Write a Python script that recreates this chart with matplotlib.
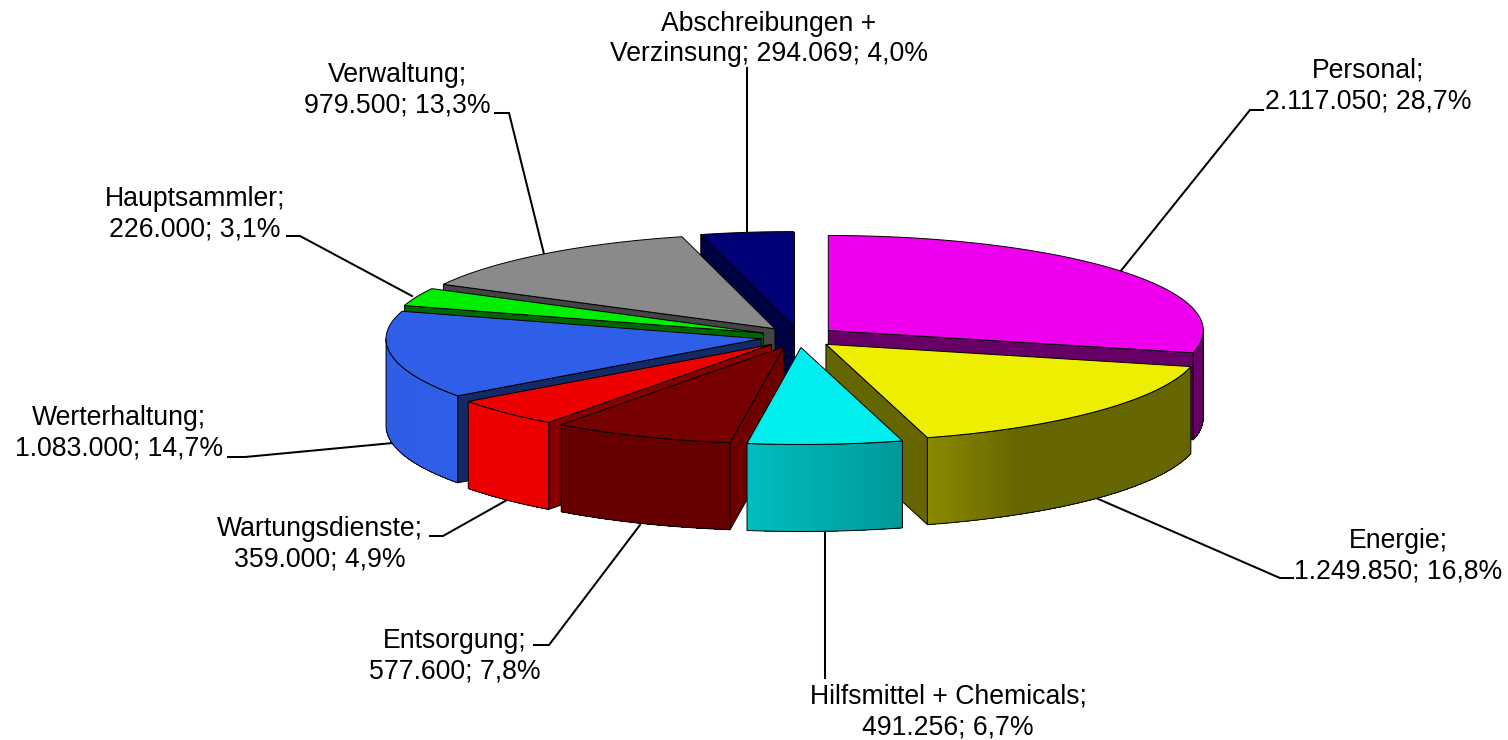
import matplotlib
matplotlib.use('Agg')
import matplotlib.pyplot as plt
import numpy as np
from matplotlib.collections import PolyCollection
from matplotlib.colors import to_rgb

plt.rcParams['font.family'] = ['Liberation Sans', 'DejaVu Sans']

names = ['Personal', 'Energie', 'Hilfsmittel + Chemicals', 'Entsorgung',
         'Wartungsdienste', 'Werterhaltung', 'Hauptsammler', 'Verwaltung',
         'Abschreibungen + Verzinsung']
values = [2117050, 1249850, 491256, 577600, 359000, 1083000, 226000, 979500,
          294069]
percents = [28.7, 16.8, 6.7, 7.8, 4.9, 14.7, 3.1, 13.3, 4.0]

top_colors = ['#ee00ee', '#eeee00', '#00eeee', '#770000', '#ee0000', '#2f5fe8',
              '#00ee00', '#8a8a8a', '#000077']
face_colors = ['#660066', '#666600', '#006666', '#6e0000', '#880000', '#142a66',
               '#006600', '#444444', '#000044']
# wall brightness along each slice, (fraction of the slice, brightness)
wall_shades = [[(0, .43), (1, .43)],
               [(0, .43), (.75, .43), (1, .58)],
               [(0, .64), (1, .80)],
               [(0, .86), (1, .86)],
               [(0, 1.), (1, 1.)],
               [(0, 1.), (1, .97)],
               [(0, 1.), (1, 1.)],
               [(0, 1.), (1, 1.)],
               [(0, 1.), (1, 1.)]]

# layout of the projected pie, in pixels
CX, CY = 798.5, 337
RX = 375
RY_BACK, RY_FRONT = 95, 97
EXPLODE_X, EXPLODE_Y = 38, 10.5
DEPTH = 87

label_pos = [(1368, 86), (1398, 556), (948, 712), (455, 656), (320, 544),
             (119, 433), (195, 214), (397, 90), (769, 39)]
leaders = [[(1120, 272), (1250, 110), (1263, 110)],
           [(1096, 498), (1280, 578), (1293, 578)],
           [(825, 530), (825, 678)],
           [(640, 525), (549, 645), (534, 645)],
           [(507, 500), (443, 536), (430, 536)],
           [(393, 443), (245, 457), (228, 457)],
           [(412, 296), (300, 236), (287, 236)],
           [(544, 254), (509, 113), (495, 113)],
           [(747, 231), (747, 68)]]


def label_text(name, value, percent):
    number = '{:,}'.format(value).replace(',', '.')
    pct = '{:.1f}%'.format(percent).replace('.', ',')
    if name.startswith('Abschreibungen'):
        return 'Abschreibungen +\nVerzinsung; {}; {}'.format(number, pct)
    return '{};\n{}; {}'.format(name, number, pct)


def rim(apex, angles):
    a = np.radians(angles)
    cos = np.cos(a)
    ry = np.where(cos > 0, RY_BACK, RY_FRONT)
    return np.column_stack([apex[0] + RX*np.sin(a), apex[1] - ry*cos])


def shaded(color, k):
    return tuple(c*k for c in to_rgb(color))


def draw_slice(ax, a1, a2, color, face, stops, z):
    mid = np.radians((a1 + a2)/2)
    apex = (CX + EXPLODE_X*np.sin(mid), CY - EXPLODE_Y*np.cos(mid))
    down = np.array([0, DEPTH])

    # cut faces, only the ones turned to the viewer
    for a, visible in [(a1, np.sin(np.radians(a1)) < 0),
                       (a2, np.sin(np.radians(a2)) > 0)]:
        if visible:
            p = rim(apex, [a])[0]
            q = np.array(apex)
            ax.fill(*np.array([q, p, p + down, q + down]).T, facecolor=face,
                    edgecolor='k', linewidth=.7, zorder=z)

    # outer wall between 90 and 270 degrees
    w1, w2 = max(a1, 90), min(a2, 270)
    if w2 > w1:
        angles = np.linspace(w1, w2, int(w2 - w1)*2 + 2)
        edge = rim(apex, angles)
        k = np.interp((angles - a1)/(a2 - a1), *zip(*stops))
        quads = [[edge[i], edge[i + 1], edge[i + 1] + down, edge[i] + down]
                 for i in range(len(edge) - 1)]
        cols = [shaded(color, k[i]) for i in range(len(quads))]
        ax.add_collection(PolyCollection(quads, facecolors=cols, edgecolors='none',
                                         antialiaseds=False, zorder=z))
        outline = np.vstack([edge, (edge + down)[::-1]])
        ax.fill(*outline.T, facecolor='none', edgecolor='k', linewidth=.7,
                zorder=z)

    # top surface
    angles = np.linspace(a1, a2, int(a2 - a1)*2 + 2)
    top = np.vstack([[apex], rim(apex, angles)])
    ax.fill(*top.T, facecolor=color, edgecolor='k', linewidth=.7, zorder=z)


fig = plt.figure(figsize=(15.08, 7.40), dpi=100)
ax = fig.add_axes([0, 0, 1, 1])
ax.set_xlim(0, 1508)
ax.set_ylim(740, 0)
ax.axis('off')

for points in leaders:
    ax.plot(*zip(*points), color='k', linewidth=1.45, zorder=1,
            solid_joinstyle='miter')

shares = np.array(values)/np.sum(values)*360
ends = np.cumsum(shares)
starts = ends - shares
mids = (starts + ends)/2

# back slices first, front ones paint over them
order = np.argsort(-np.cos(np.radians(mids)))
for z, i in enumerate(order):
    draw_slice(ax, starts[i], ends[i], top_colors[i], face_colors[i],
               wall_shades[i], z + 2)

for name, value, percent, (x, y) in zip(names, values, percents, label_pos):
    ax.text(x, y, label_text(name, value, percent), ha='center', va='center',
            fontsize=19.2, linespacing=1.22, color='k', zorder=50)

fig.savefig('out.png', dpi=100)
